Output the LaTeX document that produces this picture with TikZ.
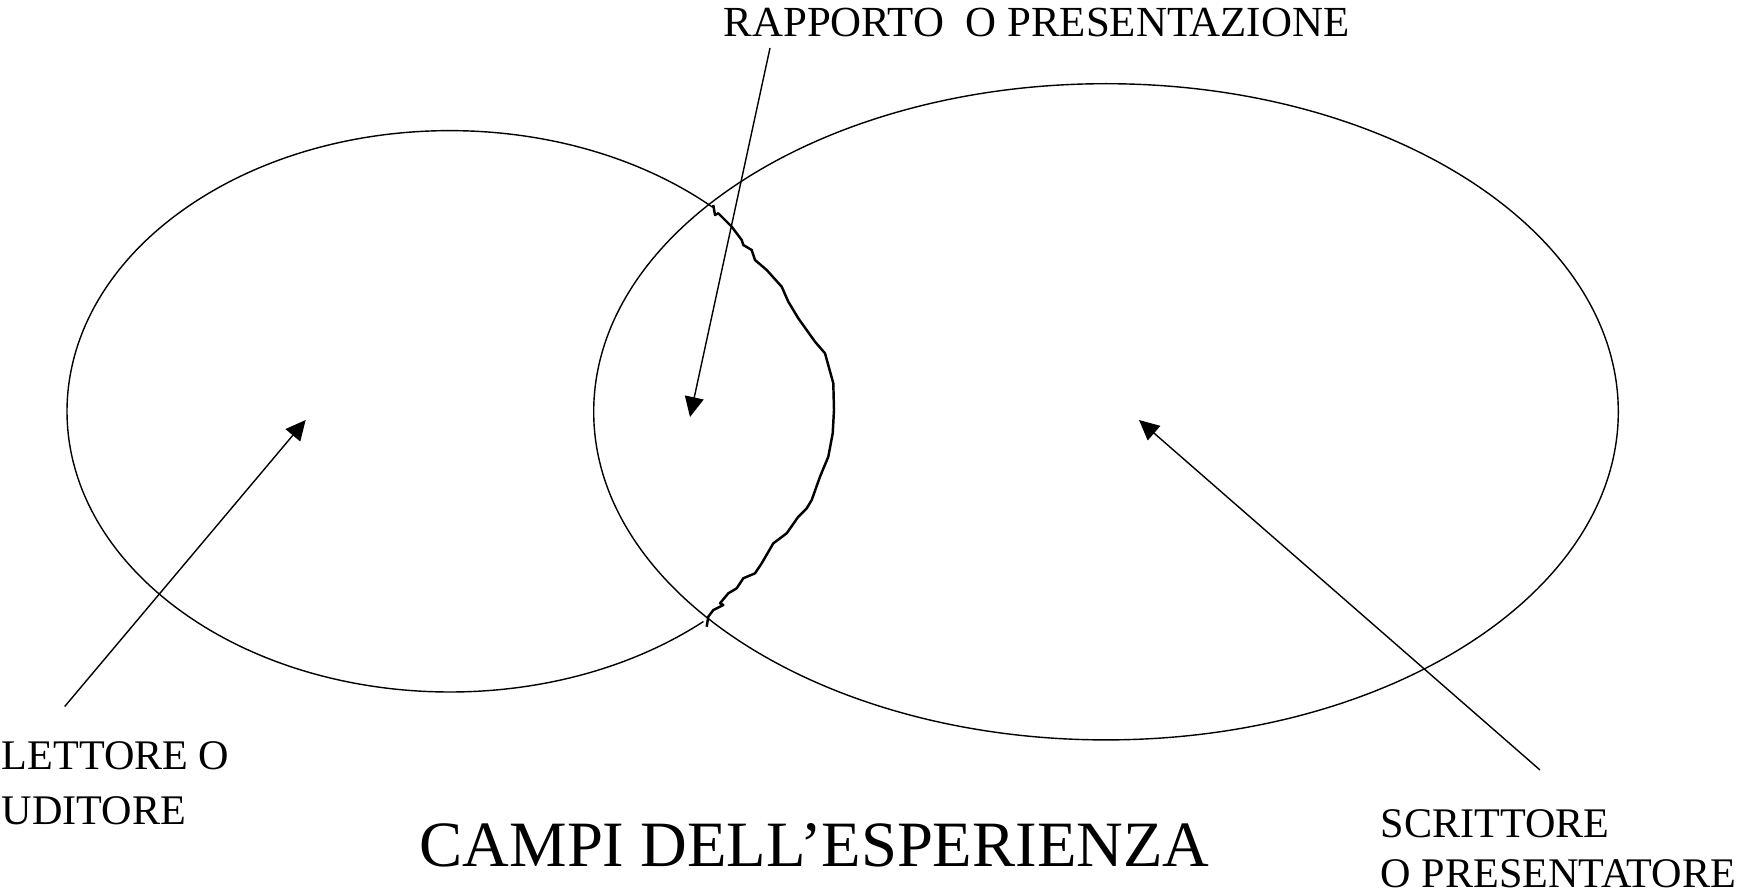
\documentclass[tikz,border=0pt]{standalone}
\usepackage{fontspec}
\setmainfont{Liberation Serif}
\usetikzlibrary{arrows.meta}
\tikzstyle{arrow} = [->,>={Triangle[length=2mm,width=1.9mm]}]
\tikzstyle{hand} = [line width=0.7pt, line join=round]
\tikzstyle{testo} = [inner sep=0, anchor=base west, align=left, font=\fontsize{12}{15.4}\selectfont]

\begin{document}
\begin{tikzpicture}[x=0.1mm, y=-0.1mm]
	\useasboundingbox (0,0) rectangle (1750,891);
	%Campo scrittore
	\coordinate (campo-scrittore) at (1106,411.8);
	\draw (campo-scrittore) ellipse [x radius=512.3, y radius=328.1];
	%Campo lettore
	\coordinate (campo-lettore) at (449.8,411.3);
	\draw ([shift={(48.5:382.8 and 280.7)}]campo-lettore) arc [start angle=48.5, end angle=313.4, x radius=382.8, y radius=280.7];
	\draw[hand] plot coordinates {(713.3,205) (715,215) (718.3,213.3) (731.7,226.7) (741.7,240) (743.3,245) (751.7,250) (755,260) (766.7,270) (781.7,286.7) (788.3,301.7) (798.3,318.3) (815,341.7) (825,353.3) (833.3,383.3) (834,410) (832.7,433.3) (828.3,456.7) (820,476.7) (811.7,500) (806.7,508.3) (798.3,516.7) (786.7,533.3) (773.3,543.3) (761.7,563.3) (755,573.3) (743.3,578.3) (736.7,588.3) (728.3,593.3) (720,603.3) (723.3,605) (713.3,610) (708.3,616.7) (706.7,626.7)};

	%Rapporto
	\node[testo, font=\fontsize{12.2}{15.4}\selectfont] (rapporto) at (723,36) {RAPPORTO\ \ O PRESENTAZIONE};
	\coordinate (rapporto-coda) at (770,48);
	\coordinate (rapporto-punta) at (690,417);
	\draw[arrow] (rapporto-coda) -- (rapporto-punta);
	%Lettore
	\node[testo] (lettore) at (1,824) {LETTORE O\\UDITORE};
	\coordinate (lettore-coda) at (64.7,706.5);
	\coordinate (lettore-punta) at (305.7,420);
	\draw[arrow] (lettore-coda) -- (lettore-punta);
	%Scrittore
	\node[testo, font=\fontsize{12}{14.2}\selectfont] (scrittore) at (1380,887) {SCRITTORE\\O PRESENTATORE};
	\coordinate (scrittore-coda) at (1540,770);
	\coordinate (scrittore-punta) at (1139,420);
	\draw[arrow] (scrittore-coda) -- (scrittore-punta);

	%Titolo
	\node[testo, font=\fontsize{18.4}{21}\selectfont] (campi) at (419,866) {CAMPI DELL’ESPERIENZA};
\end{tikzpicture}
\end{document}
